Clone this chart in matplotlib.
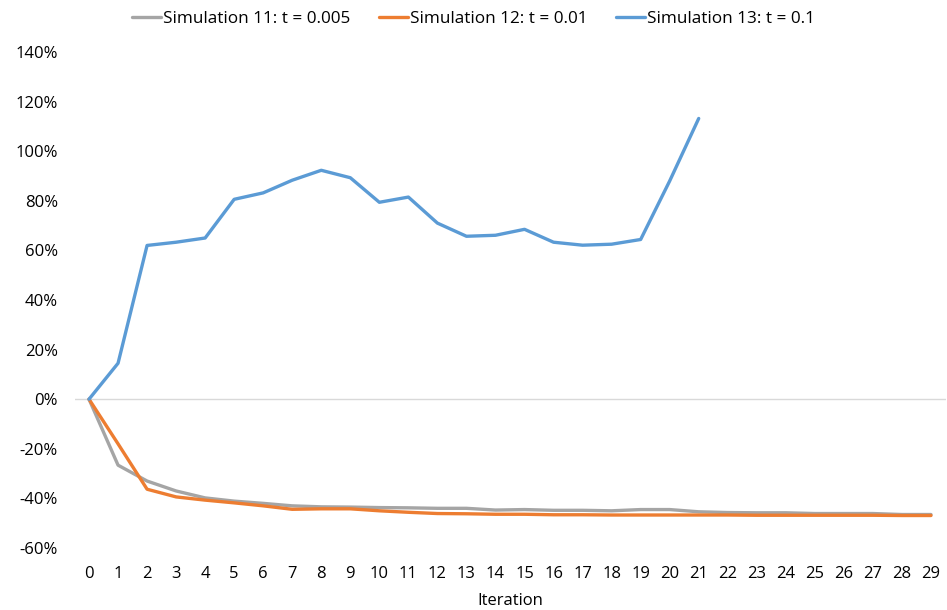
import matplotlib
matplotlib.use("Agg")
import matplotlib.pyplot as plt
from matplotlib.ticker import FuncFormatter

plt.rcParams['font.family'] = ['Open Sans', 'DejaVu Sans']

iterations = list(range(30))
sim11 = [0, -26.6, -33.0, -37.0, -39.8, -41.1, -42.0, -43.0, -43.4, -43.5,
         -43.7, -43.8, -44.0, -44.0, -44.7, -44.5, -44.8, -44.8, -45.0, -44.5,
         -44.5, -45.4, -45.7, -45.8, -45.8, -46.1, -46.1, -46.1, -46.5, -46.5]
sim12 = [0, -18.0, -36.3, -39.4, -40.7, -41.8, -43.0, -44.4, -44.2, -44.2,
         -45.0, -45.6, -46.1, -46.2, -46.4, -46.4, -46.6, -46.6, -46.7, -46.7,
         -46.7, -46.7, -46.7, -46.8, -46.8, -46.8, -46.8, -46.8, -46.9, -46.9]
sim13_x = list(range(22))
sim13 = [0, 14.5, 62.0, 63.3, 65.0, 80.6, 83.2, 88.3, 92.3, 89.3,
         79.4, 81.5, 71.0, 65.7, 66.1, 68.5, 63.3, 62.1, 62.5, 64.4,
         88.0, 113.2]
labels = ["Simulation 11: t = 0.005", "Simulation 12: t = 0.01", "Simulation 13: t = 0.1"]
yticks = [-60, -40, -20, 0, 20, 40, 60, 80, 100, 120, 140]

fig = plt.figure(figsize=(9.47, 6.10), dpi=100)
ax = fig.add_axes([74.5 / 947, 62 / 610, 871 / 947, 496 / 610])

ax.axhline(0, color='#D9D9D9', lw=1.0, zorder=1)
ax.plot(iterations, sim11, color='#A5A5A5', lw=2.4, label=labels[0], solid_capstyle='round', zorder=3)
ax.plot(iterations, sim12, color='#ED7D31', lw=2.4, label=labels[1], solid_capstyle='round', zorder=3)
ax.plot(sim13_x, sim13, color='#5B9BD5', lw=2.4, label=labels[2], solid_capstyle='round', zorder=3)

ax.set_xlim(-0.5, 29.5)
ax.set_ylim(-60, 140)
ax.set_yticks(yticks)
ax.yaxis.set_major_formatter(FuncFormatter(lambda v, p: f"{v:.0f}%"))
ax.set_xticks(iterations)
ax.set_xticklabels([str(i) for i in iterations])
for s in ax.spines.values():
    s.set_visible(False)
ax.tick_params(axis='both', length=0, labelsize=12, colors='#000000')
ax.tick_params(axis='y', pad=12)
ax.tick_params(axis='x', pad=13)
ax.set_xlabel("Iteration", fontsize=12, labelpad=8)

leg = fig.legend(loc='upper center', bbox_to_anchor=(0.5, 1.0), ncol=3, frameon=False,
                 fontsize=12.3, handlelength=1.7, handletextpad=0.1, columnspacing=1.7,
                 borderaxespad=0.25)

fig.savefig("out.png", dpi=100)
